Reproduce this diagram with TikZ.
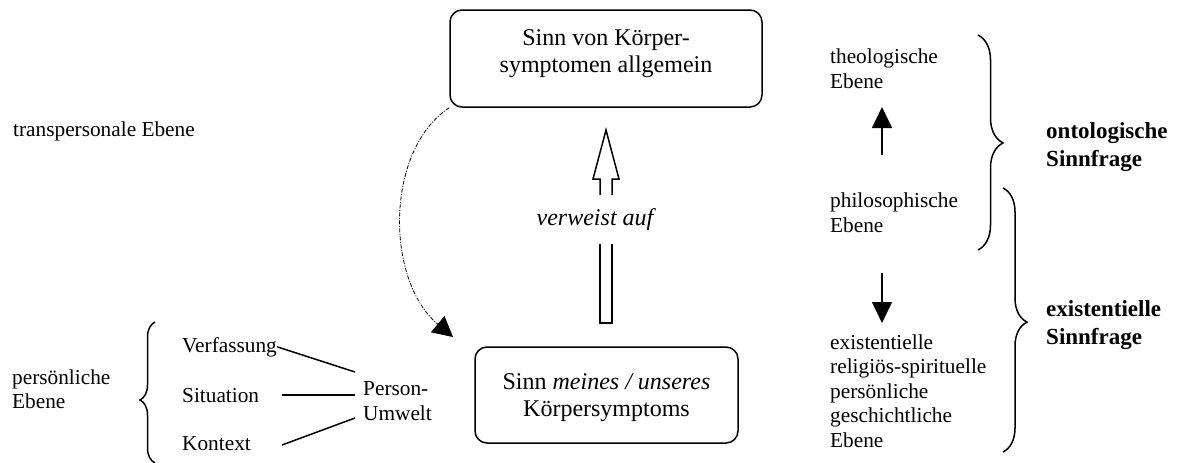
\documentclass[tikz,border=0pt]{standalone}
\usepackage{fontspec}
\setmainfont{Liberation Serif}
\usetikzlibrary{arrows.meta,decorations.pathreplacing}
\tikzset{
  txt/.style={inner sep=0pt, align=left, font=\fontsize{21.3}{24.5}\selectfont},
  boldtxt/.style={inner sep=0pt, align=left, font=\fontsize{23}{27.5}\selectfont\bfseries},
  boxtxt/.style={inner sep=0pt, align=center, font=\fontsize{24}{27}\selectfont},
  sbox/.style={draw, line width=1.5pt, rounded corners=12pt, inner sep=0pt},
  ln/.style={line width=1.5pt},
  brc/.style={line width=1.5pt, decorate},
  solidarrow/.style={line width=1.6pt, -{Triangle[length=21pt,width=20pt]}},
  hollow/.style={line width=1.5pt, line join=miter},
}
\begin{document}
\begin{tikzpicture}[x=1pt,y=-1pt]
\useasboundingbox (0,0) rectangle (1178,463);

% boxes
\node[sbox, minimum width=312pt, minimum height=97pt] (top) at (606,58.5) {};
\node[boxtxt] (toptext) at (606,54) {Sinn von Körper-\\symptomen allgemein};
\node[sbox, minimum width=263pt, minimum height=96pt] (bot) at (606.5,395) {};
\node[boxtxt] (bottext) at (606.5,398) {Sinn \textit{meines / unseres}\\Körpersymptoms};

% hollow arrow
\node[boxtxt, font=\fontsize{24}{27}\selectfont\itshape] (verw) at (595,220) {verweist auf};
\draw[hollow] (600,195) -- (600,179) -- (593,179) -- (606,130) -- (619,179) -- (612,179) -- (612,195);
\draw[hollow] (600,244) -- (600,323) -- (612,323) -- (612,244);

% dash-dot curve
\coordinate (dtip) at (453,337);
\draw[line width=0.8pt, dash pattern=on 4pt off 1.5pt on 1pt off 1.5pt,
  -{Triangle[length=20pt,width=21pt]}]
  (top.south west) .. controls (385,150) and (385,280) .. (dtip);

% left texts
\node[txt, anchor=base west] (trans) at (13,136) {transpersonale Ebene};
\node[txt, anchor=west] (pers) at (12,389) {persönliche\\Ebene};
\node[txt, anchor=base west] (verf) at (182,352) {Verfassung};
\node[txt, anchor=base west] (sit) at (182,402) {Situation};
\node[txt, anchor=base west] (kon) at (182,450) {Kontext};
\node[txt, anchor=west] (pu) at (363,401) {Person-\\Umwelt};
\draw[brc, decoration={brace, amplitude=15pt, aspect=0.447}] (155,463) -- (155,322);

\coordinate (v2) at (355,372);
\coordinate (s1) at (282,395);
\coordinate (s2) at (355,395);
\coordinate (k1) at (282,445);
\coordinate (k2) at (355,418);
\draw[ln] (verf.east) -- (v2);
\draw[ln] (s1) -- (s2);
\draw[ln] (k1) -- (k2);

% right column
\node[txt, anchor=west] (theo) at (830,68.5) {theologische\\Ebene};
\node[txt, anchor=west] (phil) at (830,212.5) {philosophische\\Ebene};
\node[txt, anchor=west] (exi) at (830,391) {existentielle\\religiös-spirituelle\\persönliche\\geschichtliche\\Ebene};
\coordinate (u1) at (882,155);
\coordinate (u2) at (882,107);
\coordinate (d1) at (882,273);
\coordinate (d2) at (882,323);
\draw[solidarrow] (u1) -- (u2);
\draw[solidarrow] (d1) -- (d2);

\draw[brc, decoration={brace, amplitude=25pt, aspect=0.502}] (978,35) -- (978,250);
\draw[brc, decoration={brace, amplitude=24pt, aspect=0.508}] (1003,188) -- (1003,452);

\node[boldtxt, anchor=west] (onto) at (1046,147) {ontologische\\Sinnfrage};
\node[boldtxt, anchor=west] (exis) at (1046,325) {existentielle\\Sinnfrage};
\end{tikzpicture}
\end{document}
